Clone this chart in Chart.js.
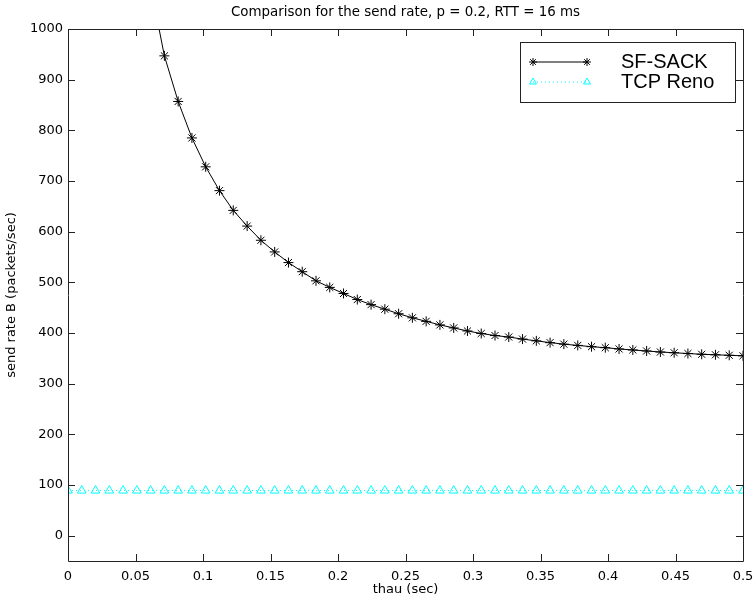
<!DOCTYPE html>
<html>
<head>
<meta charset="utf-8">
<script src="https://cdn.jsdelivr.net/npm/chart.js@4.4.1/dist/chart.umd.min.js"></script>
<style>
  html, body { margin: 0; padding: 0; background: #ffffff; }
  #wrap { width: 756px; height: 605px; position: relative; }
</style>
</head>
<body>
<div id="wrap"><canvas id="c" width="756" height="605"></canvas></div>
<script>
// thau (sec): 50 evenly spaced samples between 0 and 0.5
const tau = [
  0.0000, 0.0102, 0.0204, 0.0306, 0.0408, 0.0510, 0.0612, 0.0714, 0.0816, 0.0918,
  0.1020, 0.1122, 0.1224, 0.1327, 0.1429, 0.1531, 0.1633, 0.1735, 0.1837, 0.1939,
  0.2041, 0.2143, 0.2245, 0.2347, 0.2449, 0.2551, 0.2653, 0.2755, 0.2857, 0.2959,
  0.3061, 0.3163, 0.3265, 0.3367, 0.3469, 0.3571, 0.3673, 0.3776, 0.3878, 0.3980,
  0.4082, 0.4184, 0.4286, 0.4388, 0.4490, 0.4592, 0.4694, 0.4796, 0.4898, 0.5000
];

// send rate B (packets/sec); the first samples lie above the plotted range
const sfSack = [
  null, null, null, null, null, null, 1085, 947, 857, 785,
  728, 681, 642, 611, 583, 560, 539, 521, 503, 490,
  478, 466, 456, 447, 438, 430, 423, 416, 410, 404,
  399, 395, 392, 388, 384.5, 381, 378, 375.5, 373, 371,
  368.5, 366.5, 364.5, 362.5, 361, 359.5, 358, 357, 356, 355
];

const tcpReno = [
  89, 89, 89, 89, 89, 89, 89, 89, 89, 89,
  89, 89, 89, 89, 89, 89, 89, 89, 89, 89,
  89, 89, 89, 89, 89, 89, 89, 89, 89, 89,
  89, 89, 89, 89, 89, 89, 89, 89, 89, 89,
  89, 89, 89, 89, 89, 89, 89, 89, 89, 89
];

const xTicks = [0, 0.05, 0.1, 0.15, 0.2, 0.25, 0.3, 0.35, 0.4, 0.45, 0.5];
const xTickLabels = ['0', '0.05', '0.1', '0.15', '0.2', '0.25', '0.3', '0.35', '0.4', '0.45', '0.5'];
const yTicks = [0, 100, 200, 300, 400, 500, 600, 700, 800, 900, 1000];
const seriesNames = ['SF-SACK', 'TCP Reno'];
const titleText = 'Comparison for the send rate, p = 0.2, RTT = 16 ms';

const toPoints = (ys) => tau.map((x, i) => ({ x: x, y: ys[i] }));

const tickFont = { family: 'DejaVu Sans', size: 13 };
const axisColor = '#222222';

// Box around the plot, inward tick marks on all four sides, title and legend
const framePlugin = {
  id: 'frame',
  afterDraw(chart) {
    const ctx = chart.ctx;
    const a = chart.chartArea;
    const xs = chart.scales.x, ys = chart.scales.y;
    const tl = 7;
    ctx.save();
    ctx.strokeStyle = axisColor;
    ctx.lineWidth = 1;
    ctx.beginPath();
    ctx.rect(Math.round(a.left) + 0.5, Math.round(a.top) + 0.5,
             Math.round(a.right - a.left), Math.round(a.bottom - a.top));
    ctx.stroke();
    ctx.beginPath();
    xTicks.forEach(v => {
      const px = Math.round(xs.getPixelForValue(v)) + 0.5;
      ctx.moveTo(px, a.bottom); ctx.lineTo(px, a.bottom - tl);
      ctx.moveTo(px, a.top); ctx.lineTo(px, a.top + tl);
    });
    yTicks.forEach(v => {
      const py = Math.round(ys.getPixelForValue(v)) + 0.5;
      ctx.moveTo(a.left, py); ctx.lineTo(a.left + tl, py);
      ctx.moveTo(a.right, py); ctx.lineTo(a.right - tl, py);
    });
    ctx.stroke();

    // title
    ctx.fillStyle = '#000000';
    ctx.font = '13.4px "DejaVu Sans"';
    ctx.textAlign = 'center';
    ctx.textBaseline = 'middle';
    ctx.fillText(titleText, (a.left + a.right) / 2, 13);

    // legend box
    const bx = a.right - 223, by = a.top + 12.5, bw = 215, bh = 60;
    ctx.fillStyle = '#ffffff';
    ctx.fillRect(bx, by, bw, bh);
    ctx.strokeStyle = axisColor;
    ctx.strokeRect(Math.round(bx) + 0.5, Math.round(by) + 0.5, bw, bh);
    const rows = [by + 20.5, by + 40.5];
    chart.data.datasets.forEach((ds, i) => {
      const y = rows[i];
      const x0 = bx + 13, x1 = bx + 67;
      ctx.save();
      ctx.strokeStyle = ds.borderColor;
      ctx.lineWidth = ds.borderWidth;
      ctx.setLineDash(ds.borderDash || []);
      ctx.beginPath();
      ctx.moveTo(x0, y); ctx.lineTo(x1, y);
      ctx.stroke();
      ctx.restore();
      const opts = {
        pointStyle: ds.pointStyle, radius: ds.pointRadius - 1, rotation: 0,
        borderWidth: 1
      };
      ctx.save();
      ctx.strokeStyle = ds.pointBorderColor;
      ctx.fillStyle = 'rgba(0,0,0,0)';
      ctx.lineWidth = 1;
      Chart.helpers.drawPoint(ctx, opts, x0, y);
      Chart.helpers.drawPoint(ctx, opts, x1, y);
      ctx.restore();
      ctx.fillStyle = '#000000';
      ctx.font = '20px "Liberation Sans"';
      ctx.textAlign = 'left';
      ctx.textBaseline = 'middle';
      ctx.fillText(ds.label, bx + 101, y);
    });
    ctx.restore();
  }
};

new Chart(document.getElementById('c'), {
  type: 'line',
  data: {
    datasets: [
      {
        label: seriesNames[0],
        data: toPoints(sfSack),
        borderColor: '#000000',
        borderWidth: 1,
        pointStyle: 'star',
        pointRadius: 5,
        pointBorderColor: '#000000',
        pointBorderWidth: 1,
        pointBackgroundColor: '#000000',
        fill: false,
        tension: 0
      },
      {
        label: seriesNames[1],
        data: toPoints(tcpReno),
        borderColor: '#00ffff',
        borderWidth: 1,
        borderDash: [1, 3],
        pointStyle: 'triangle',
        pointRadius: 5,
        pointBorderColor: '#00ffff',
        pointBorderWidth: 1,
        pointBackgroundColor: 'rgba(0,0,0,0)',
        fill: false,
        tension: 0
      }
    ]
  },
  options: {
    responsive: false,
    animation: false,
    devicePixelRatio: 1,
    layout: { padding: { top: 29, right: 13, left: 0, bottom: 0 } },
    plugins: {
      legend: { display: false },
      title: { display: false },
      tooltip: { enabled: false }
    },
    scales: {
      x: {
        type: 'linear',
        min: 0,
        max: 0.5,
        afterFit(scale) {
          scale.height = 44;
          scale.paddingLeft = 0;
          scale.paddingRight = 0;
        },
        afterBuildTicks(scale) { scale.ticks = xTicks.map(v => ({ value: v })); },
        grid: { display: false, drawTicks: false },
        border: { display: false },
        ticks: {
          font: tickFont,
          color: '#000000',
          padding: 8,
          maxRotation: 0,
          autoSkip: false,
          callback: (v, i) => xTickLabels[i]
        },
        title: {
          display: true,
          text: 'thau (sec)',
          color: '#000000',
          font: { family: 'DejaVu Sans', size: 13 },
          padding: { top: 0, bottom: 8 }
        }
      },
      y: {
        type: 'linear',
        min: -50,
        max: 1000,
        afterFit(scale) {
          scale.width = 68;
          scale.paddingTop = 0;
          scale.paddingBottom = 0;
        },
        afterBuildTicks(scale) { scale.ticks = yTicks.map(v => ({ value: v })); },
        grid: { display: false, drawTicks: false },
        border: { display: false },
        ticks: {
          font: tickFont,
          color: '#000000',
          padding: 5,
          autoSkip: false,
          callback: (v) => String(v)
        },
        title: {
          display: true,
          text: 'send rate B (packets/sec)',
          color: '#000000',
          font: { family: 'DejaVu Sans', size: 13 },
          padding: { top: 4, bottom: 0 }
        }
      }
    }
  },
  plugins: [framePlugin]
});
</script>
</body>
</html>
